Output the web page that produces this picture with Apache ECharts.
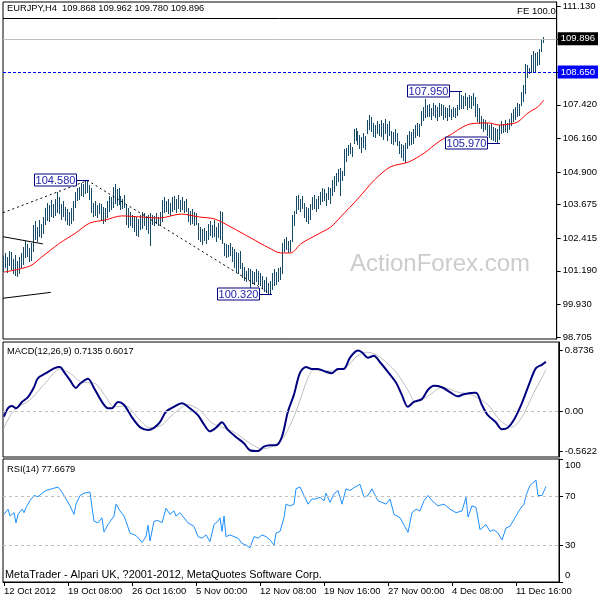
<!DOCTYPE html>
<html>
<head>
<meta charset="utf-8">
<script src="https://cdn.jsdelivr.net/npm/echarts@6/dist/echarts.min.js"></script>
<style>html,body{margin:0;padding:0;background:#fff;}#c{width:600px;height:600px;}</style>
</head>
<body>
<div id="c"></div>
<script>
// ---------- data ----------
const highs = [
101.75,101.85,101.70,101.95,101.90,101.65,101.80,101.55,101.70,101.85,
102.10,102.30,102.20,102.05,102.25,
102.90,103.05,102.85,103.10,102.95,103.20,
103.55,103.75,103.65,103.85,103.70,103.90,104.15,
103.95,103.70,103.80,103.60,103.50,103.40,103.55,
103.80,104.15,104.30,104.35,
104.50,104.45,104.55,104.58,104.40,
104.30,103.75,103.80,103.65,103.75,
103.70,103.60,103.55,103.80,104.00,103.95,
104.35,104.45,104.25,104.30,
104.00,103.90,104.05,
103.65,103.55,103.40,
103.30,103.25,103.20,103.15,103.30,
103.40,103.35,103.25,103.30,103.35,
103.30,103.25,103.35,103.20,103.40,
103.85,103.95,103.80,103.90,103.75,
103.95,104.00,103.90,104.05,103.85,103.95,103.80,103.90,
103.55,103.45,103.50,103.40,103.35,
103.00,102.85,102.75,102.80,102.70,
102.95,103.05,102.90,103.10,102.85,103.00,103.45,103.40,
102.25,102.20,102.15,102.25,
102.10,102.00,101.90,101.85,101.95,
101.50,101.35,101.20,101.30,
101.25,101.20,101.15,101.25,101.20,101.10,
101.00,100.85,100.95,100.75,100.80,
101.10,101.25,101.15,101.30,101.35,
102.25,102.40,102.45,102.30,102.35,
103.30,103.45,
104.00,104.05,103.90,104.00,
103.75,103.60,103.55,103.70,
103.95,104.05,103.90,104.00,
104.15,104.30,104.25,104.10,104.35,104.30,
104.60,104.75,104.85,105.00,105.05,104.95,105.75,105.80,
105.90,106.00,105.85,
106.50,106.55,106.45,
106.30,106.20,106.35,106.25,
106.85,107.05,106.95,
106.75,106.65,106.80,106.70,
106.85,106.75,106.90,106.70,106.80,
106.45,106.40,106.50,106.35,
106.05,105.95,105.90,106.00,
106.30,106.45,106.40,106.50,
106.65,106.75,106.70,
107.20,107.35,107.65,107.40,
107.45,107.30,107.50,107.40,107.35,107.50,107.45,107.40,
107.35,107.30,107.40,107.25,107.35,107.30,107.40,
107.95,107.80,
107.75,107.85,107.70,107.80,107.75,107.85,
107.70,107.45,107.30,
107.00,106.90,106.85,
106.75,106.65,106.70,106.60,106.55,106.50,106.65,
106.80,106.70,106.85,106.75,106.90,
107.10,107.25,107.35,107.50,107.45,
107.90,108.15,
108.95,108.90,108.80,
109.30,109.45,109.35,109.40,109.50,
109.90,109.962];
const lows = [
101.20,101.35,101.15,101.40,101.25,101.10,101.05,100.98,101.10,101.30,
101.45,101.70,101.75,101.55,101.60,
101.95,102.40,102.30,102.50,102.45,102.60,
102.95,103.10,103.05,103.25,103.20,103.30,103.40,
103.35,103.15,103.25,103.10,102.95,102.90,103.00,
103.10,103.60,103.85,103.90,
104.05,104.00,104.10,104.15,103.90,
103.40,103.25,103.30,103.20,103.35,
103.10,103.00,103.05,103.20,103.45,103.50,
103.60,103.75,103.65,103.70,
103.50,103.55,103.60,
102.95,102.85,102.90,
102.85,102.70,102.55,102.50,102.75,
102.80,102.90,102.75,102.60,102.15,
102.95,102.90,103.00,102.90,102.95,
103.05,103.40,103.45,103.35,103.30,
103.45,103.50,103.40,103.55,103.45,103.50,103.40,103.45,
103.05,102.95,103.00,102.90,102.95,
102.40,102.30,102.20,102.35,102.25,
102.40,102.55,102.45,102.50,102.30,102.45,102.40,102.25,
101.80,101.70,101.75,101.80,
101.55,101.35,101.20,101.10,101.30,
100.95,100.85,100.80,100.90,
100.60,100.75,100.70,100.80,100.70,100.65,
100.55,100.45,100.40,100.35,100.32,
100.50,100.65,100.70,100.80,100.90,
101.10,101.95,102.00,101.90,101.95,
102.30,102.90,
103.35,103.50,103.45,103.55,
103.20,103.05,103.00,103.15,
103.50,103.55,103.45,103.55,
103.70,103.80,103.85,103.65,103.90,103.75,
104.05,104.20,104.40,104.55,104.05,104.60,104.80,105.30,
105.55,105.60,105.50,
106.00,106.10,105.95,
105.80,105.65,105.85,105.75,
106.35,106.50,106.45,
106.25,106.20,106.35,106.30,
106.25,106.15,106.35,106.10,106.30,
106.00,105.95,106.05,105.90,
105.60,105.45,105.35,105.28,
105.80,105.90,105.95,106.00,
106.20,106.30,106.25,
106.65,106.85,106.95,107.00,
107.00,106.90,107.05,106.95,106.85,107.00,107.05,106.90,
106.95,106.85,107.00,106.90,107.00,106.95,107.05,
107.25,107.30,
107.30,107.40,107.25,107.35,107.30,107.40,
107.00,106.80,106.75,
106.55,106.45,106.50,
106.30,106.20,106.15,106.10,106.05,105.97,106.15,
106.35,106.40,106.45,106.40,106.50,
106.65,106.80,106.90,107.00,107.05,
107.40,107.55,
107.85,108.45,108.60,
108.65,108.70,108.65,108.90,108.95,
109.45,109.780];

const maIdx = [0,13,19,28,36,43,51,59,69,78,89,98,106,114,124,133,139,144,149,158,164,169,178,186,194,203,211,218,224,234,243,249,254,258,263,268,271];
const maVal = [101.14,101.37,101.71,102.23,102.61,102.98,103.10,103.25,103.21,103.17,103.32,103.21,103.13,102.83,102.42,102.05,101.86,101.86,102.20,102.58,102.83,103.21,103.92,104.60,105.09,105.27,105.61,106.02,106.29,106.70,106.74,106.66,106.70,106.78,107.11,107.34,107.60];

const macdIdx = [0,2,4,6,9,12,15,17,21,25,28,30,33,36,38,42,45,49,52,54,57,60,64,68,72,75,78,81,85,89,93,97,100,103,106,109,112,116,120,123,127,130,133,136,139,142,145,148,151,154,157,161,164,167,170,173,177,179,182,185,188,192,196,199,202,205,209,212,215,219,223,227,230,236,239,242,246,249,252,255,259,263,266,269,271];
const macdVal = [-0.07,0.05,0.08,0.05,0.14,0.21,0.35,0.48,0.55,0.62,0.64,0.57,0.45,0.34,0.40,0.47,0.34,0.14,0.05,0.05,0.14,0.10,-0.08,-0.22,-0.26,-0.23,-0.15,0.00,0.07,0.12,0.05,-0.05,-0.18,-0.28,-0.23,-0.15,-0.26,-0.36,-0.45,-0.55,-0.5622,-0.50,-0.48,-0.48,-0.36,0.00,0.24,0.55,0.64,0.61,0.61,0.57,0.55,0.61,0.61,0.77,0.8736,0.85,0.77,0.80,0.71,0.57,0.42,0.24,0.07,0.14,0.18,0.31,0.37,0.35,0.28,0.22,0.25,0.27,0.10,-0.05,-0.15,-0.25,-0.23,-0.12,0.12,0.42,0.62,0.67,0.7135];

const sigIdx = [0,5,13,21,28,33,39,45,51,55,61,67,73,79,84,92,98,104,109,115,123,129,134,140,146,152,155,163,171,177,182,188,196,202,206,213,219,227,234,242,248,254,259,265,269,271];
const sigVal = [-0.23,0.02,0.17,0.42,0.61,0.55,0.42,0.41,0.21,0.07,0.08,-0.09,-0.23,-0.19,-0.05,0.10,0.02,-0.16,-0.22,-0.29,-0.45,-0.53,-0.50,-0.36,0.00,0.48,0.60,0.58,0.64,0.80,0.85,0.78,0.57,0.31,0.14,0.24,0.35,0.28,0.24,0.10,-0.12,-0.22,-0.08,0.27,0.48,0.6017];

const rsiIdx = [0,1,2,3,5,6,7,9,10,11,13,15,17,19,21,24,27,29,31,33,35,36,38,40,43,44,45,47,49,50,52,55,56,58,60,61,63,66,68,69,71,72,73,75,77,79,81,83,85,86,88,90,92,95,97,99,101,103,105,107,108,109,110,111,113,115,117,119,121,123,125,127,129,131,133,135,136,138,140,141,143,145,146,148,150,152,154,156,158,160,161,163,165,167,169,171,173,175,178,180,182,184,186,187,189,191,193,195,198,202,204,206,208,210,212,214,217,220,223,226,229,231,232,234,236,238,241,243,245,247,249,251,253,256,258,260,261,263,266,267,269,271];
const rsiVal = [55.0,56.4,59.2,53.6,56.4,48.1,55.0,59.2,56.4,60.6,66.1,70.3,69.4,72.2,74.4,75.8,77.2,73.1,67.5,61.9,55.0,63.3,70.3,72.2,73.1,60.6,49.4,48.1,52.2,40.6,46.7,53.6,63.3,57.8,53.6,49.4,39.7,37.8,34.2,32.2,36.9,46.1,33.3,49.4,50.0,48.1,60.0,55.0,57.8,53.6,56.4,52.2,48.1,45.3,36.9,35.6,38.3,32.8,46.7,49.4,52.2,41.1,53.6,36.9,38.3,36.9,35.6,31.4,30.0,27.8,36.9,35.6,38.3,36.9,34.2,30.0,39.7,41.1,52.2,63.3,61.9,63.3,75.8,77.2,70.3,63.3,67.5,67.5,68.9,66.1,72.2,64.7,71.7,74.4,63.3,75.8,74.4,76.7,79.4,68.9,70.3,75.8,68.9,66.1,64.7,63.3,67.5,55.0,52.2,40.3,56.4,59.2,57.8,66.1,70.3,66.1,61.9,63.3,59.2,56.4,57.8,68.9,52.8,61.9,60.6,42.5,46.7,41.1,42.5,39.7,34.2,43.9,45.3,53.6,59.2,63.3,70.3,78.6,82.8,70.3,70.3,77.67];

const swingIdx = [42,134,229.5,248.5];
const swingPrice = [104.58,100.32,107.95,105.97];
const swingText = ['104.580','100.320','107.950','105.970'];

const fibPathIdx = [-0.5,42,134];
const fibPathPrice = [103.37,104.58,100.32];
const line1Idx = [-0.5,19.5], line1Price = [102.47,102.20];
const line2Idx = [-0.5,23.5], line2Price = [100.16,100.38];

const fe100 = 110.68, bidPrice = 109.896, hLine = 108.650;

const priceTicks = [111.130,107.420,106.160,104.900,103.675,102.415,101.190,99.930,98.705];
const priceTickMarks = [111.130,109.896,108.650,107.420,106.160,104.900,103.675,102.415,101.190,99.930,98.705];
const macdTicks = [0.8736,0,-0.5622];
const rsiTicks = [100,70,30,0];
const xLabels = ['12 Oct 2012','19 Oct 08:00','26 Oct 16:00','5 Nov 00:00','12 Nov 08:00','19 Nov 16:00','27 Nov 00:00','4 Dec 08:00','11 Dec 16:00'];
const xLabelIdx = [0,32,64,96,128,160,192,224,256];

// ---------- chart ----------
const FONT = "'Liberation Sans', Arial, sans-serif";
const barColor = '#174a66';
const pairs = (a,b)=>a.map((v,k)=>[v,b[k]]);
const chart = echarts.init(document.getElementById('c'), null, {renderer:'canvas'});

const gridBase = {left:3, right:41, show:true, borderColor:'#000', borderWidth:1, backgroundColor:'#fff'};
const xBase = {type:'value', min:-0.5, max:277.5, show:false, axisLine:{onZero:false}};
function yBase(min,max,ticks,marks,fmt){
  return {type:'value', position:'right', min:min, max:max, scale:true,
    axisLine:{show:true, onZero:false, lineStyle:{color:'#000', width:1}},
    axisTick:{show:true, length:4, lineStyle:{color:'#000'}, customValues:marks},
    axisLabel:{show:true, customValues:ticks, formatter:fmt, color:'#000', fontFamily:FONT, fontSize:9.5, margin:6},
    splitLine:{show:false}};
}
const rsiAxis = Object.assign({gridIndex:2}, yBase(0,100,rsiTicks,rsiTicks,
  (v)=> v===100 ? '{hi|100}' : (v===0 ? '{lo|0}' : String(v))));
rsiAxis.axisLabel.rich = {
  hi:{fontSize:9.5, fontFamily:FONT, color:'#000', padding:[13,0,0,0]},
  lo:{fontSize:9.5, fontFamily:FONT, color:'#000', padding:[0,0,13,0]}
};

const option = {
  animation:false,
  backgroundColor:'#fff',
  grid:[
    Object.assign({top:2, height:337}, gridBase),
    Object.assign({top:342, height:115}, gridBase),
    Object.assign({top:459, height:123}, gridBase)
  ],
  xAxis:[
    Object.assign({gridIndex:0}, xBase),
    Object.assign({gridIndex:1}, xBase),
    {gridIndex:2, type:'value', min:-0.5, max:277.5, position:'bottom',
      axisLine:{show:true, onZero:false, lineStyle:{color:'#000'}},
      axisTick:{show:true, length:4, lineStyle:{color:'#000'}, customValues:xLabelIdx},
      axisLabel:{show:true, customValues:xLabelIdx, align:'left', margin:4, color:'#000', fontFamily:FONT, fontSize:9.5,
        formatter:(v)=>xLabels[xLabelIdx.indexOf(Math.round(v))] || ''},
      splitLine:{show:false}}
  ],
  yAxis:[
    Object.assign({gridIndex:0}, yBase(98.63,111.28,priceTicks,priceTickMarks,(v)=>Number(v).toFixed(3))),
    Object.assign({gridIndex:1}, yBase(-0.647,0.996,macdTicks,macdTicks,(v)=> v===0 ? '0.00' : Number(v).toFixed(4))),
    rsiAxis
  ],
  graphic:[
    {type:'text', left:7, top:4, z:10, style:{text:'EURJPY,H4  109.868 109.962 109.780 109.896', fill:'#000', font:'9.3px '+FONT}},
    {type:'text', left:350, top:252, z:0, style:{text:'ActionForex.com', fill:'#cccccc', font:'24px '+FONT}},
    {type:'text', left:7, top:347, z:10, style:{text:'MACD(12,26,9) 0.7135 0.6017', fill:'#000', font:'9.3px '+FONT}},
    {type:'text', left:7, top:465, z:10, style:{text:'RSI(14) 77.6679', fill:'#000', font:'9.3px '+FONT}},
    {type:'text', left:5, top:569, z:10, style:{text:'MetaTrader - Alpari UK, ?2001-2012, MetaQuotes Software Corp.', fill:'#000', font:'10.9px '+FONT}}
  ],
  series:[
    {type:'custom', name:'bars', xAxisIndex:0, yAxisIndex:0, z:3, clip:true,
      encode:{x:0, y:[1,2]},
      data: highs.map((h,i)=>[i,h,lows[i]]),
      renderItem:function(params, api){
        const i = api.value(0);
        const a = api.coord([i, api.value(1)]);
        const b = api.coord([i, api.value(2)]);
        const x = Math.round(a[0]) - 0.5;
        return {type:'line', shape:{x1:x, y1:Math.round(a[1]), x2:x, y2:Math.round(b[1])+1}, style:{stroke:barColor, lineWidth:1}};
      }},
    {type:'line', name:'MA', xAxisIndex:0, yAxisIndex:0, z:4, data:pairs(maIdx,maVal), symbol:'none', smooth:0.3,
      lineStyle:{color:'#ff0000', width:1},
      markLine:{silent:true, symbol:'none', animation:false, data:[
        {yAxis:fe100, lineStyle:{color:'#000', type:'solid', width:1},
          label:{show:true, position:'insideEndTop', formatter:'FE 100.0', color:'#000', fontFamily:FONT, fontSize:9.5, distance:[1,2]}},
        {yAxis:bidPrice, lineStyle:{color:'#c0c0c0', type:'solid', width:1},
          label:{show:true, position:'end', formatter:'109.896', color:'#fff', backgroundColor:'#000', padding:[2,3,1,3], distance:1, fontFamily:FONT, fontSize:9.5}},
        {yAxis:hLine, lineStyle:{color:'#0000ff', type:[3,2], width:1},
          label:{show:true, position:'end', formatter:'108.650', color:'#fff', backgroundColor:'#0000ff', padding:[2,3,1,3], distance:1, fontFamily:FONT, fontSize:9.5}}
      ]}},
    {type:'line', name:'fib', xAxisIndex:0, yAxisIndex:0, z:4, data:pairs(fibPathIdx,fibPathPrice), symbol:'none',
      lineStyle:{color:'#000', width:1, type:[2,3]}},
    {type:'line', name:'l1', xAxisIndex:0, yAxisIndex:0, z:4, data:pairs(line1Idx,line1Price), symbol:'none', lineStyle:{color:'#000', width:1}},
    {type:'line', name:'l2', xAxisIndex:0, yAxisIndex:0, z:4, data:pairs(line2Idx,line2Price), symbol:'none', lineStyle:{color:'#000', width:1}},
    {type:'custom', name:'swings', xAxisIndex:0, yAxisIndex:0, z:6, clip:false,
      encode:{x:0, y:1},
      data: swingIdx.map((v,k)=>[v, swingPrice[k]]),
      renderItem:function(params, api){
        const p = api.coord([api.value(0), api.value(1)]);
        const x = Math.round(p[0]), y = Math.round(p[1]) + 0.5;
        return {type:'group', children:[
          {type:'line', shape:{x1:x-11, y1:y, x2:x+1, y2:y}, style:{stroke:'#000080', lineWidth:1}},
          {type:'rect', shape:{x:x-53.5, y:y-6.5, width:42, height:12}, style:{fill:'#fff', stroke:'#000080', lineWidth:1}},
          {type:'text', style:{text:swingText[params.dataIndex], x:x-32.5, y:y, align:'center', verticalAlign:'middle', fill:'#2222aa', font:'11px '+FONT}}
        ]};
      }},
    {type:'line', name:'signal', xAxisIndex:1, yAxisIndex:1, z:3, data:pairs(sigIdx,sigVal), symbol:'none', smooth:0.3,
      lineStyle:{color:'#c0c0c0', width:1},
      markLine:{silent:true, symbol:'none', label:{show:false}, data:[{yAxis:0}], lineStyle:{color:'#c0c0c0', type:[3,3], width:1}}},
    {type:'line', name:'macd', xAxisIndex:1, yAxisIndex:1, z:4, data:pairs(macdIdx,macdVal), symbol:'none', smooth:0.3,
      lineStyle:{color:'#000080', width:2}},
    {type:'line', name:'rsi', xAxisIndex:2, yAxisIndex:2, z:4, data:pairs(rsiIdx,rsiVal), symbol:'none',
      lineStyle:{color:'#1e90ff', width:1},
      markLine:{silent:true, symbol:'none', label:{show:false}, data:[{yAxis:70},{yAxis:30}], lineStyle:{color:'#c0c0c0', type:[3,3], width:1}}}
  ]
};
chart.setOption(option);
</script>
</body>
</html>
